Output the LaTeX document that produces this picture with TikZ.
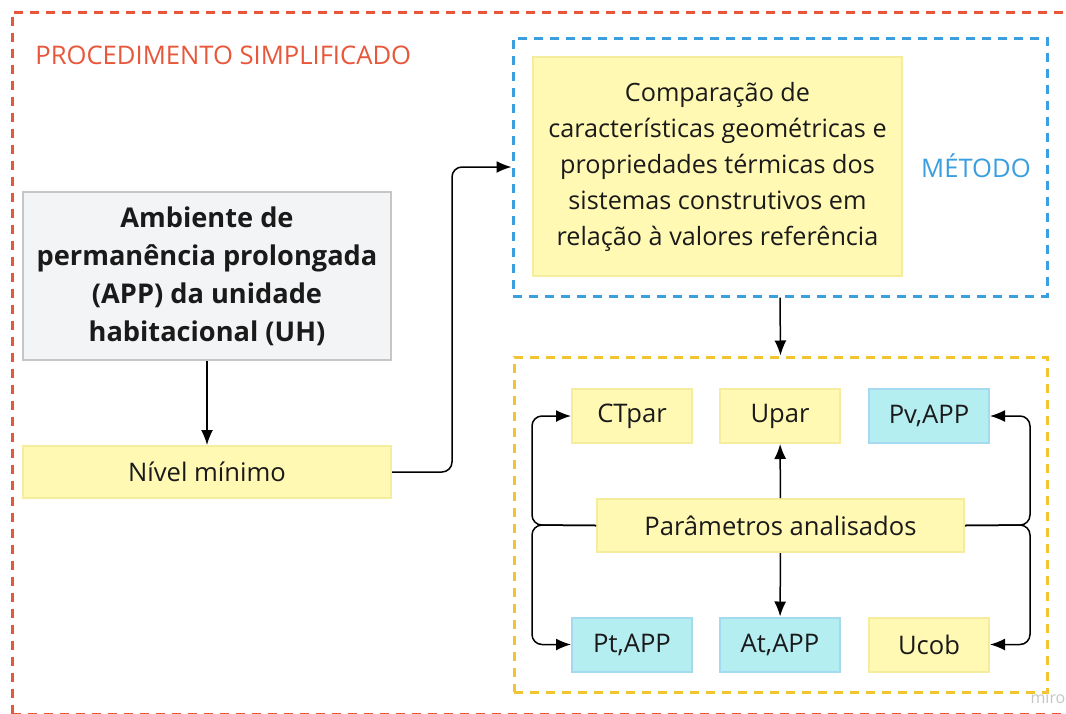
\documentclass[tikz,border=0pt]{standalone}
\usepackage{fontspec}
\setmainfont{Open Sans}
\usetikzlibrary{arrows.meta}

\definecolor{redline}{HTML}{E8573A}
\definecolor{blueline}{HTML}{3A9EE0}
\definecolor{yelline}{HTML}{F2C530}
\definecolor{yelfill}{HTML}{FFF9B3}
\definecolor{yeldraw}{HTML}{F5EC9E}
\definecolor{cyanfill}{HTML}{B5EEF1}
\definecolor{cyandraw}{HTML}{A5D9EF}
\definecolor{greyfill}{HTML}{F3F4F6}
\definecolor{greydraw}{HTML}{C6C6C6}
\definecolor{ink}{HTML}{1A1A1A}

\tikzset{
	frame/.style={line width=1.5pt,dash pattern=on 4.5pt off 3.5pt},
	ybox/.style={draw=yeldraw,fill=yelfill,line width=1pt,text=ink,align=center,inner sep=0},
	cbox/.style={draw=cyandraw,fill=cyanfill,line width=1pt,text=ink,align=center,inner sep=0},
	small/.style={minimum width=60pt,minimum height=27pt},
	arr/.style={-{Latex[length=7.5pt,width=6pt]},line width=0.75pt,rounded corners=5pt}
}

\begin{document}
\begin{tikzpicture}[x=0.5pt,y=-0.5pt,font=\fontsize{12.8}{18}\selectfont]
	\clip (0,0) rectangle (1066,713);
	\fill[white] (0,0) rectangle (1066,713);
	% outer frame
	\draw[frame,draw=redline] (12,714) -- (12,12) -- (1080,12);
	\draw[frame,draw=redline] (12,714) -- (1080,714);
	\node[anchor=west,text=redline,inner sep=0] (title) at (35,55) {PROCEDIMENTO SIMPLIFICADO};

	% left column
	\node[draw=greydraw,fill=greyfill,line width=1pt,text=ink,align=center,inner sep=0,
		minimum width=184pt,minimum height=84pt,font=\fontsize{13.6}{19}\selectfont\bfseries] (amb) at (207,276)
		{Ambiente de\\permanência prolongada\\(APP) da unidade\\habitacional (UH)};
	\node[ybox,minimum width=184pt,minimum height=26pt] (nivel) at (207,472) {Nível mínimo};

	% method
	\node[frame,draw=blueline,minimum width=267pt,minimum height=129pt] (met) at (780,167) {};
	\node[ybox,minimum width=184.5pt,minimum height=109.5pt,font=\fontsize{12.6}{18}\selectfont] (comp) at (717.5,166.5)
		{Comparação de\\características geométricas e\\propriedades térmicas dos\\sistemas construtivos em\\relação à valores referência};
	\node[text=blueline,inner sep=0] (mlabel) at (976,166) {MÉTODO};

	% parameters
	\node[frame,draw=yelline,minimum width=266.5pt,minimum height=167.5pt] (par) at (780.5,524.5) {};
	\node[ybox,small] (ctpar) at (632,416) {CTpar};
	\node[ybox,small] (upar) at (780,416) {Upar};
	\node[cbox,small] (pv) at (929,416) {Pv,APP};
	\node[ybox,minimum width=183.5pt,minimum height=26.5pt] (an) at (780.5,525.5) {Parâmetros analisados};
	\node[cbox,small] (pt) at (632,644.5) {Pt,APP};
	\node[cbox,small] (at) at (780,644.5) {At,APP};
	\node[ybox,small] (ucob) at (929,644.5) {Ucob};
	\node[text=gray!45,inner sep=0,font=\fontsize{8}{9}\selectfont] (miro) at (1048,698) {miro};

	\coordinate (lj) at (532,525);
	\coordinate (rj) at (1030,525);
	\coordinate (nj) at (452,472);

	% connectors
	\draw[arr] (amb) -- (nivel);
	\draw[arr] (nivel.east) -- (nj) |- (met.west);
	\draw[arr] (met.south) -- (par.north);
	\draw[arr] (an) -- (upar);
	\draw[arr] (an) -- (at);
	\draw[arr] (an.west) -- (lj) |- (ctpar.west);
	\draw[arr] (an.west) -- (lj) |- (pt.west);
	\draw[arr] (an.east) -- (rj) |- (pv.east);
	\draw[arr] (an.east) -- (rj) |- (ucob.east);
\end{tikzpicture}
\end{document}
